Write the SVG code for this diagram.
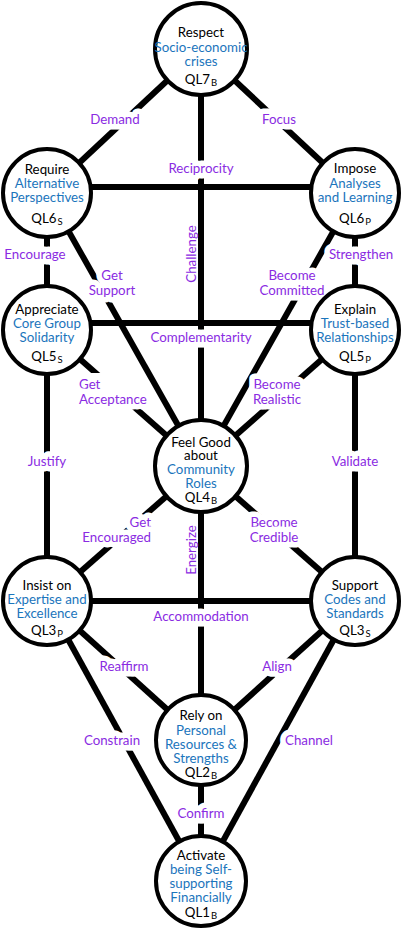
<svg xmlns="http://www.w3.org/2000/svg" width="401" height="932" viewBox="0 0 401 932">
<style>
text{font-family:Lato,"Liberation Sans",sans-serif;font-size:13.3px;text-anchor:middle}
.k{fill:#000}
.b{fill:#1b75bc}
.s{font-size:9.5px}
.l{fill:#8a2be2;stroke:#fff;stroke-width:11px;stroke-linejoin:round;paint-order:stroke}
.lr{fill:#8a2be2}
#edges line{stroke:#000;stroke-width:6}
circle{fill:#fff;stroke:#000;stroke-width:4}
</style>
<rect width="401" height="932" fill="#fff"/>
<g id="edges">
<line x1="201" y1="49" x2="47" y2="193"/>
<line x1="201" y1="49" x2="355" y2="193"/>
<line x1="201" y1="49" x2="201" y2="466"/>
<line x1="47" y1="187" x2="355" y2="187"/>
<line x1="47" y1="193" x2="47" y2="330"/>
<line x1="355" y1="193" x2="355" y2="330"/>
<line x1="47" y1="193" x2="201" y2="466"/>
<line x1="355" y1="193" x2="201" y2="466"/>
<line x1="47" y1="323" x2="355" y2="323"/>
<line x1="47" y1="330" x2="201" y2="466"/>
<line x1="355" y1="330" x2="201" y2="466"/>
<line x1="47" y1="330" x2="47" y2="601"/>
<line x1="355" y1="330" x2="355" y2="601"/>
<line x1="201" y1="466" x2="47" y2="601"/>
<line x1="201" y1="466" x2="355" y2="601"/>
<line x1="201" y1="466" x2="201" y2="740"/>
<line x1="47" y1="601" x2="355" y2="601"/>
<line x1="47" y1="601" x2="201" y2="740"/>
<line x1="355" y1="601" x2="201" y2="740"/>
<line x1="47" y1="601" x2="201" y2="881"/>
<line x1="355" y1="601" x2="201" y2="881"/>
<line x1="201" y1="740" x2="201" y2="881"/>
</g>
<g id="edge-labels">
<text class="l" x="115" y="123.5">Demand</text>
<text class="l" x="279" y="123.5">Focus</text>
<text class="l" x="201" y="172.5">Reciprocity</text>
<text class="lr" transform="translate(191,254) rotate(-90)" y="4.5">Challenge</text>
<text class="l" x="35" y="258.5">Encourage</text>
<text class="l" x="112" y="279.5">Get</text>
<text class="l" x="112" y="294.5">Support</text>
<text class="l" x="361" y="258.5">Strengthen</text>
<text class="l" x="292" y="279.5">Become</text>
<text class="l" x="292" y="294.5">Committed</text>
<text class="l" x="201" y="341.5">Complementarity</text>
<rect x="76" y="373" width="68" height="34" fill="#fff"/>
<text class="l" x="79" y="388.5" style="text-anchor:start">Get</text>
<text class="l" x="79" y="403.5" style="text-anchor:start">Acceptance</text>
<text class="l" x="277" y="388.5">Become</text>
<text class="l" x="277" y="403.5">Realistic</text>
<text class="l" x="47" y="465.5">Justify</text>
<text class="l" x="355" y="465.5">Validate</text>
<text class="l" x="151" y="526.5" style="text-anchor:end">Get</text>
<text class="l" x="151" y="541.5" style="text-anchor:end">Encouraged</text>
<text class="l" x="274" y="526.5">Become</text>
<text class="l" x="274" y="541.5">Credible</text>
<text class="lr" transform="translate(191,550) rotate(-90)" y="4.5">Energize</text>
<text class="l" x="201" y="620.5">Accommodation</text>
<text class="l" x="124" y="670.5">Reaffirm</text>
<text class="l" x="277" y="670.5">Align</text>
<text class="l" x="112" y="744.5">Constrain</text>
<text class="l" x="309" y="744.5">Channel</text>
<text class="l" x="201" y="817.5">Confirm</text>
</g>
<g id="respect">
<circle cx="201" cy="49" r="46"/>
<text class="k" x="201" y="36.5">Respect</text>
<text class="b" x="201" y="52">Socio-economic</text>
<text class="b" x="201" y="66">crises</text>
<text class="k" x="201" y="84">QL7<tspan class="s" dx="1" dy="2">B</tspan></text>
</g>
<g id="require">
<circle cx="47" cy="193" r="44"/>
<text class="k" x="47" y="173.5">Require</text>
<text class="b" x="47" y="188">Alternative</text>
<text class="b" x="47" y="202">Perspectives</text>
<text class="k" x="47" y="222.5">QL6<tspan class="s" dx="1" dy="2">S</tspan></text>
</g>
<g id="impose">
<circle cx="355" cy="193" r="44"/>
<text class="k" x="355" y="173">Impose</text>
<text class="b" x="355" y="188">Analyses</text>
<text class="b" x="355" y="202">and Learning</text>
<text class="k" x="355" y="222.5">QL6<tspan class="s" dx="1" dy="2">P</tspan></text>
</g>
<g id="appreciate">
<circle cx="47" cy="330" r="44"/>
<text class="k" x="47" y="313.5">Appreciate</text>
<text class="b" x="47" y="328">Core Group</text>
<text class="b" x="47" y="342">Solidarity</text>
<text class="k" x="47" y="361">QL5<tspan class="s" dx="1" dy="2">S</tspan></text>
</g>
<g id="explain">
<circle cx="355" cy="330" r="44"/>
<text class="k" x="355" y="313.5">Explain</text>
<text class="b" x="355" y="328">Trust-based</text>
<text class="b" x="355" y="342">Relationships</text>
<text class="k" x="355" y="361">QL5<tspan class="s" dx="1" dy="2">P</tspan></text>
</g>
<g id="feelgood">
<circle cx="201" cy="466" r="46"/>
<text class="k" x="201" y="446.5">Feel Good</text>
<text class="k" x="201" y="459.5">about</text>
<text class="b" x="201" y="473.5">Community</text>
<text class="b" x="201" y="487.5">Roles</text>
<text class="k" x="201" y="501.5">QL4<tspan class="s" dx="1" dy="2">B</tspan></text>
</g>
<g id="insist">
<circle cx="47" cy="601" r="44"/>
<text class="k" x="47" y="589.5">Insist on</text>
<text class="b" x="47" y="603.5">Expertise and</text>
<text class="b" x="47" y="617.5">Excellence</text>
<text class="k" x="47" y="635">QL3<tspan class="s" dx="1" dy="2">P</tspan></text>
</g>
<g id="support">
<circle cx="355" cy="601" r="44"/>
<text class="k" x="355" y="589.5">Support</text>
<text class="b" x="355" y="603.5">Codes and</text>
<text class="b" x="355" y="617.5">Standards</text>
<text class="k" x="355" y="635">QL3<tspan class="s" dx="1" dy="2">S</tspan></text>
</g>
<g id="rely">
<circle cx="201" cy="740" r="45"/>
<text class="k" x="201" y="720">Rely on</text>
<text class="b" x="201" y="735">Personal</text>
<text class="b" x="201" y="749">Resources &amp;</text>
<text class="b" x="201" y="763">Strengths</text>
<text class="k" x="201" y="776.5">QL2<tspan class="s" dx="1" dy="2">B</tspan></text>
</g>
<g id="activate">
<circle cx="201" cy="881" r="45"/>
<text class="k" x="201" y="860">Activate</text>
<text class="b" x="201" y="874">being Self-</text>
<text class="b" x="201" y="888">supporting</text>
<text class="b" x="201" y="902">Financially</text>
<text class="k" x="201" y="916.5">QL1<tspan class="s" dx="1" dy="2">B</tspan></text>
</g>
</svg>
